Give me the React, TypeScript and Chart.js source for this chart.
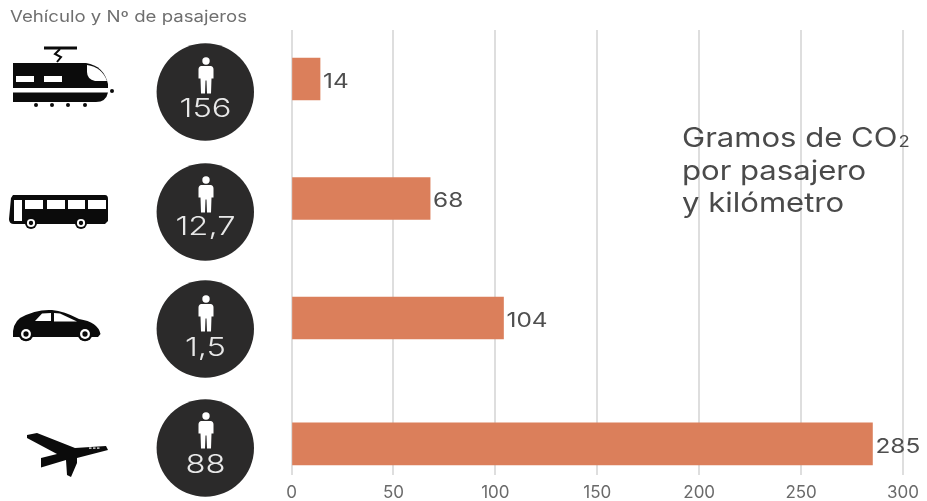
import React, { useEffect, useRef } from "react";
import { Chart, registerables } from "chart.js";

Chart.register(...registerables);

const vehicles = ["Tren", "Autobús", "Coche", "Avión"];
const gramsPerKm = [14, 68, 104, 285];
const passengers = ["156", "12,7", "1,5", "88"];
const rowSlots = [0, 1, 2, 3.054];
const axisTicks = [0, 50, 100, 150, 200, 250, 300];
const headerText = "Vehículo y Nº de pasajeros";
const noteLines = ["Gramos de CO", "por pasajero", "y kilómetro"];

const FONT = "Inter, 'Liberation Sans', sans-serif";
const BLACK = "#0b0b0b";
const DISC = "#2b2a2a";
const PAPER = "#ffffff";

type Ctx = CanvasRenderingContext2D;

function poly(ctx: Ctx, pts: number[][], fill: string) {
  ctx.fillStyle = fill;
  ctx.beginPath();
  pts.forEach(([x, y], i) => (i ? ctx.lineTo(x, y) : ctx.moveTo(x, y)));
  ctx.closePath();
  ctx.fill();
}

function dot(ctx: Ctx, x: number, y: number, r: number, fill: string) {
  ctx.fillStyle = fill;
  ctx.beginPath();
  ctx.arc(x, y, r, 0, Math.PI * 2);
  ctx.fill();
}

function wheel(ctx: Ctx, x: number, y: number, r: number) {
  dot(ctx, x, y, r, BLACK);
  dot(ctx, x, y, r * 0.68, PAPER);
  dot(ctx, x, y, r * 0.36, BLACK);
}

// The lettering runs wider than any installed face, so text is stretched horizontally
function wideText(ctx: Ctx, text: string, x: number, y: number, stretch: number) {
  ctx.save();
  ctx.translate(x, y);
  ctx.scale(stretch, 1);
  ctx.fillText(text, 0, 0);
  ctx.restore();
}

function drawTrain(ctx: Ctx) {
  ctx.strokeStyle = BLACK;
  ctx.lineWidth = 3;
  ctx.beginPath();
  ctx.moveTo(44, 48);
  ctx.lineTo(77, 48);
  ctx.stroke();
  ctx.lineWidth = 2;
  ctx.beginPath();
  ctx.moveTo(60, 49);
  ctx.lineTo(55, 54);
  ctx.lineTo(61, 57);
  ctx.lineTo(57, 62);
  ctx.stroke();

  ctx.fillStyle = BLACK;
  ctx.beginPath();
  ctx.moveTo(13, 63);
  ctx.lineTo(86, 63);
  ctx.quadraticCurveTo(104, 66, 108, 84);
  ctx.lineTo(108, 88);
  ctx.lineTo(13, 88);
  ctx.closePath();
  ctx.fill();

  ctx.beginPath();
  ctx.moveTo(13, 92.5);
  ctx.lineTo(108, 92.5);
  ctx.quadraticCurveTo(106, 102, 96, 102);
  ctx.lineTo(13, 102);
  ctx.closePath();
  ctx.fill();

  ctx.fillStyle = PAPER;
  ctx.fillRect(16, 76, 18, 6);
  ctx.fillRect(44, 76, 18, 6);
  ctx.beginPath();
  ctx.moveTo(87, 65);
  ctx.quadraticCurveTo(102, 67, 107, 81);
  ctx.lineTo(95, 81);
  ctx.quadraticCurveTo(87, 79, 87, 72);
  ctx.closePath();
  ctx.fill();

  dot(ctx, 112, 91, 2, BLACK);
  [36, 52, 68, 85].forEach((x) => dot(ctx, x, 105, 2, BLACK));
}

function drawBus(ctx: Ctx) {
  ctx.fillStyle = BLACK;
  ctx.beginPath();
  ctx.moveTo(13, 195);
  ctx.lineTo(105, 195);
  ctx.quadraticCurveTo(108, 195, 108, 199);
  ctx.lineTo(108, 221);
  ctx.lineTo(105, 224);
  ctx.lineTo(14, 224);
  ctx.quadraticCurveTo(9, 224, 9, 219);
  ctx.lineTo(11, 198);
  ctx.closePath();
  ctx.fill();

  ctx.fillStyle = PAPER;
  ctx.fillRect(14, 200, 8, 21);
  ctx.fillRect(25, 200, 18, 9);
  ctx.fillRect(47, 200, 18, 9);
  ctx.fillRect(68, 200, 17, 9);
  ctx.fillRect(88, 200, 18, 9);

  wheel(ctx, 31, 223, 6);
  wheel(ctx, 81, 223, 6);
}

function drawCar(ctx: Ctx) {
  ctx.fillStyle = BLACK;
  ctx.beginPath();
  ctx.moveTo(13, 337);
  ctx.quadraticCurveTo(12, 324, 20, 318);
  ctx.quadraticCurveTo(36, 309, 52, 310);
  ctx.quadraticCurveTo(64, 311, 79, 319);
  ctx.quadraticCurveTo(98, 322, 100.5, 334);
  ctx.lineTo(98, 337);
  ctx.closePath();
  ctx.fill();
  poly(ctx, [[35, 321], [42, 313.5], [51, 313], [51, 321]], PAPER);
  poly(ctx, [[54, 313], [60, 313.5], [77, 321.5], [54, 321.5]], PAPER);
  wheel(ctx, 26, 334, 7.3);
  wheel(ctx, 85, 334, 7.3);
}

function drawPlane(ctx: Ctx) {
  poly(
    ctx,
    [
      [27, 435],
      [37, 433],
      [75, 448],
      [106, 446],
      [108, 450],
      [77, 458],
      [77, 463],
      [71, 477],
      [67, 475],
      [66, 460],
      [41, 467.5],
      [41, 458],
      [57, 454],
      [27, 438],
    ],
    BLACK,
  );
  ctx.fillStyle = PAPER;
  [89, 93, 97].forEach((x) => ctx.fillRect(x, 447.5, 2.5, 1.2));
}

// Standing figure, drawn relative to the disc centre
function drawPerson(ctx: Ctx, cx: number, cy: number) {
  dot(ctx, cx, cy - 4.5, 3.7, PAPER);
  ctx.fillStyle = PAPER;
  ctx.beginPath();
  ctx.moveTo(cx - 5, cy + 0.5);
  ctx.lineTo(cx + 5, cy + 0.5);
  ctx.quadraticCurveTo(cx + 7.5, cy + 1, cx + 7.5, cy + 4);
  ctx.lineTo(cx + 7.5, cy + 13);
  ctx.lineTo(cx + 5.5, cy + 13);
  ctx.lineTo(cx + 5, cy + 28);
  ctx.lineTo(cx + 1, cy + 28);
  ctx.lineTo(cx + 0.5, cy + 15);
  ctx.lineTo(cx - 0.5, cy + 15);
  ctx.lineTo(cx - 1, cy + 28);
  ctx.lineTo(cx - 5, cy + 28);
  ctx.lineTo(cx - 5.5, cy + 13);
  ctx.lineTo(cx - 7.5, cy + 13);
  ctx.lineTo(cx - 7.5, cy + 4);
  ctx.quadraticCurveTo(cx - 7.5, cy + 1, cx - 5, cy + 0.5);
  ctx.closePath();
  ctx.fill();
}

const iconDrawers = [drawTrain, drawBus, drawCar, drawPlane];
const discCentres = [92, 212, 329, 448];
const figureTops = [65.5, 184.5, 303.5, 420.5];
const countBaselines = [117, 235, 356, 473];

// Icons, passenger discs, bar values and the side note
const decorations = {
  id: "decorations",
  afterDatasetsDraw(chart: Chart) {
    const ctx = chart.ctx;
    ctx.save();

    ctx.textBaseline = "alphabetic";
    ctx.textAlign = "left";
    ctx.fillStyle = "#6f6f6f";
    ctx.font = `400 15.5px ${FONT}`;
    const headerWidth = ctx.measureText(headerText).width;
    wideText(ctx, headerText, 10, 22, 237 / headerWidth);

    iconDrawers.forEach((draw) => draw(ctx));

    passengers.forEach((count, i) => {
      dot(ctx, 205.3, discCentres[i], 48.7, DISC);
      drawPerson(ctx, 206, figureTops[i]);
      ctx.textAlign = "center";
      ctx.fillStyle = "#e8e8e8";
      ctx.font = `300 26px ${FONT}`;
      wideText(ctx, count, 205.5, countBaselines[i], 1.26);
    });

    const bars = chart.getDatasetMeta(0).data;
    ctx.textAlign = "left";
    ctx.fillStyle = "#4f4f4f";
    ctx.font = `400 20px ${FONT}`;
    bars.forEach((bar, i) => {
      wideText(ctx, String(gramsPerKm[i]), bar.x + 3, bar.y + 9, 1.22);
    });

    ctx.fillStyle = "#4a4a4a";
    ctx.font = `400 27px ${FONT}`;
    const baselines = [147, 180, 212];
    const stretch = 1.15;
    noteLines.forEach((line, i) => wideText(ctx, line, 682, baselines[i], stretch));
    const w = ctx.measureText(noteLines[0]).width * stretch;
    ctx.font = `400 16px ${FONT}`;
    wideText(ctx, "2", 682 + w + 1, 147, stretch);

    ctx.restore();
  },
};

export default function App() {
  const ref = useRef<HTMLCanvasElement>(null);

  useEffect(() => {
    document.body.style.margin = "0";
    const chart = new Chart(ref.current!, {
      type: "bar",
      data: {
        labels: vehicles,
        datasets: [
          {
            data: gramsPerKm.map((v, i) => ({ x: v, y: rowSlots[i] })),
            backgroundColor: "#db7f5b",
            barThickness: 42,
          },
        ],
      },
      options: {
        indexAxis: "y",
        animation: false,
        responsive: false,
        layout: { padding: { left: 291.5, right: 23, top: 30, bottom: 0 } },
        plugins: { legend: { display: false }, tooltip: { enabled: false } },
        scales: {
          y: {
            type: "linear",
            display: false,
            offset: false,
            reverse: true,
            min: -0.41,
            max: 3.314,
          },
          x: {
            type: "linear",
            min: 0,
            max: 300,
            afterBuildTicks(axis: any) {
              axis.ticks = axisTicks.map((value) => ({ value }));
            },
            afterFit(axis: any) {
              axis.height = 26;
            },
            border: { display: false },
            grid: {
              color: "#dedede",
              lineWidth: 2,
              drawTicks: false,
            },
            ticks: {
              color: "#6a6a6a",
              padding: 8,
              maxRotation: 0,
              font: { family: FONT, size: 17 },
            },
          },
        },
      },
      plugins: [decorations],
    } as any);
    return () => chart.destroy();
  }, []);

  return <canvas ref={ref} width={927} height={501} style={{ display: "block" }} />;
}
